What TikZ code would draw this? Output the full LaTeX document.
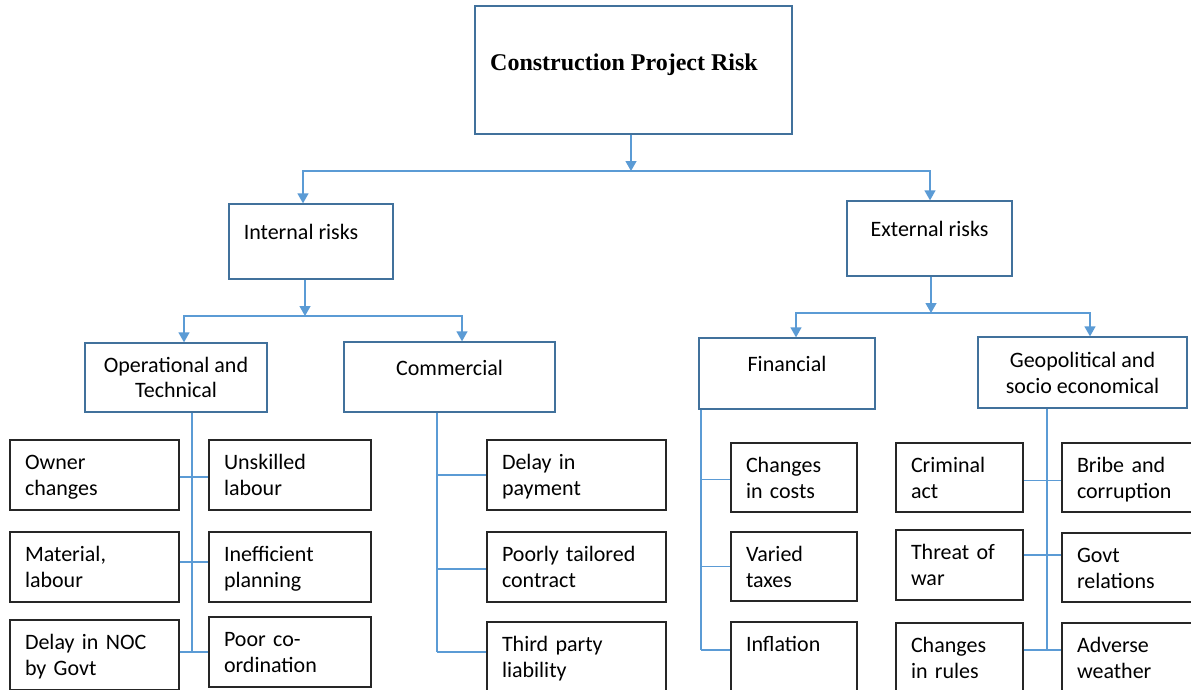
\documentclass[tikz,border=0pt]{standalone}
\usepackage{fontspec}
\setmainfont{Carlito}
\newfontfamily\titlefont{Liberation Serif}
\usetikzlibrary{arrows.meta}
\definecolor{connblue}{RGB}{91,155,213}
\definecolor{boxblue}{RGB}{65,113,156}
\definecolor{boxdark}{RGB}{38,38,38}
\newcommand{\topstrut}{\rule{0pt}{20pt}}
\newcommand{\botstrut}{\rule[-5pt]{0pt}{5pt}}
\begin{document}
\begin{tikzpicture}[x=1pt,y=-1pt,
  conn/.style={draw=connblue,line width=1.3pt},
  arr/.style={conn,-{Triangle[width=11pt,length=10pt]}},
  lvlbox/.style={draw=boxblue,line width=1.3pt,fill=white,align=center,
    font=\fontsize{22}{26}\selectfont,inner sep=0pt},
  leaf/.style={draw=boxdark,line width=1.3pt,fill=white,align=left,
    font=\fontsize{22}{26}\selectfont,inner xsep=15pt,inner ysep=0pt,
    minimum height=70pt,
    execute at begin node=\topstrut,execute at end node=\botstrut},
]
\useasboundingbox (0,0) rectangle (1191,690);
\clip (0,0) rectangle (1191,690);
\fill[white] (0,0) rectangle (1191,690);

% top
\node[lvlbox,minimum width=317pt,minimum height=128pt] (top) at (633.5,70) {};
\node[anchor=west,inner sep=0pt,font=\titlefont\bfseries\fontsize{24}{28}\selectfont] (toptext) at (490,65) {Construction Project Risk};

% level 2
\node[lvlbox,minimum width=164pt,minimum height=75pt] (int) at (311,241.5) {\hspace*{-20pt}Internal risks\\[-14pt]\strut};
\node[lvlbox,minimum width=165pt,minimum height=75pt] (ext) at (929.5,238.5) {External risks\\[-14pt]\strut};

% level 3
\node[lvlbox,minimum width=182pt,minimum height=69pt] (op) at (176,377.5) {Operational and\\[-1pt]Technical};
\node[lvlbox,minimum width=211pt,minimum height=70pt] (com) at (449.5,377) {Commercial\\[-15pt]\strut};
\node[lvlbox,minimum width=176pt,minimum height=71pt] (fin) at (787,373.5) {Financial\\[-15pt]\strut};
\node[lvlbox,minimum width=209pt,minimum height=71pt] (geo) at (1082.5,372.5) {Geopolitical and\\socio economical};

% leaves: operational
\node[leaf,text width=139pt] (oc) at (94.5,475) {Owner\\changes};
\node[leaf,text width=139pt] (ml) at (94.5,567) {Material,\\labour};
\node[leaf,text width=139pt] (dn) at (94.5,655) {Delay in NOC\\by Govt};
\node[leaf,text width=132pt] (ul) at (290,475) {Unskilled\\labour};
\node[leaf,text width=132pt] (ip) at (290,567) {Inefficient\\planning};
\node[leaf,text width=132pt] (pc) at (290,652) {Poor co-\\ordination};
% commercial
\node[leaf,text width=149pt] (dp) at (576.5,475) {Delay in\\payment};
\node[leaf,text width=149pt] (pt) at (576.5,567) {Poorly tailored\\contract};
\node[leaf,text width=149pt] (tp) at (576.5,657) {Third party\\liability};
% financial
\node[leaf,text width=96pt,minimum height=69pt] (cc) at (794,477.5) {Changes\\in costs};
\node[leaf,text width=96pt,minimum height=69pt] (vt) at (794,566.5) {Varied\\taxes};
\node[leaf,text width=96pt] (inf) at (794,657) {Inflation\\\mbox{}};
% geopolitical
\node[leaf,text width=97pt,minimum height=69pt] (ca) at (959.5,477.5) {Criminal\\act};
\node[leaf,text width=97pt] (tw) at (959.5,565) {Threat of\\war};
\node[leaf,text width=97pt] (cr) at (959.5,658) {Changes\\in rules};
\node[leaf,text width=103pt,minimum height=69pt] (bc) at (1128.5,477.5) {Bribe and\\corruption};
\node[leaf,text width=103pt,minimum height=69pt] (gr) at (1128.5,567.5) {Govt\\relations};
\node[leaf,text width=103pt] (aw) at (1128.5,658) {Adverse\\weather};

% top connectors
\coordinate (j0) at (631,171);
\draw[arr] ([xshift=-2.5pt]top.south) -- (j0);
\draw[arr] (j0) -| ([xshift=-8pt]int.north);
\draw[arr] (j0) -| ([xshift=0.5pt]ext.north);

% internal connectors
\coordinate (j1) at (305,316);
\draw[arr] ([xshift=-6pt]int.south) -- (j1);
\draw[arr] (j1) -| ([xshift=8pt]op.north);
\draw[arr] (j1) -| ([xshift=12.5pt]com.north);

% external connectors
\coordinate (j2) at (931,313);
\draw[arr] ([xshift=1.5pt]ext.south) -- (j2);
\draw[arr] (j2) -| ([xshift=9pt]fin.north);
\draw[arr] (j2) -| ([xshift=7.5pt]geo.north);

% operational column
\coordinate (ob) at (192,652);
\draw[conn] ([xshift=16pt]op.south) -- (ob);
\draw[conn] ([yshift=-2pt]oc.east) -- ([yshift=-2pt]oc.east -| ul.west);
\draw[conn] ([yshift=5pt]ml.east) -- ([yshift=5pt]ml.east -| ip.west);
\draw[conn] (pc.west -| dn.east) -- (pc.west);

% commercial column
\coordinate (cb) at (437,652);
\draw[conn] ([xshift=-12.5pt]com.south) -- (cb);
\draw[conn] (dp.west -| cb) -- (dp.west);
\draw[conn] ([yshift=-2pt]pt.west -| cb) -- ([yshift=-2pt]pt.west);
\draw[conn] (cb) -- (cb -| tp.west);

% financial column
\coordinate (fb) at (701,650);
\draw[conn] ([xshift=-86pt]fin.south) -- (fb);
\draw[conn] ([yshift=-2pt]cc.west -| fb) -- ([yshift=-2pt]cc.west);
\draw[conn] (vt.west -| fb) -- (vt.west);
\draw[conn] (fb) -- (fb -| inf.west);

% geopolitical column
\coordinate (gb) at (1047,650);
\draw[conn] ([xshift=-35.5pt]geo.south) -- (gb);
\draw[conn] ([yshift=-3pt]ca.east) -- ([yshift=-3pt]ca.east -| bc.west);
\draw[conn] ([yshift=10pt]tw.east) -- ([yshift=10pt]tw.east -| gr.west);
\draw[conn] (gb -| cr.east) -- (gb -| aw.west);
\end{tikzpicture}
\end{document}
